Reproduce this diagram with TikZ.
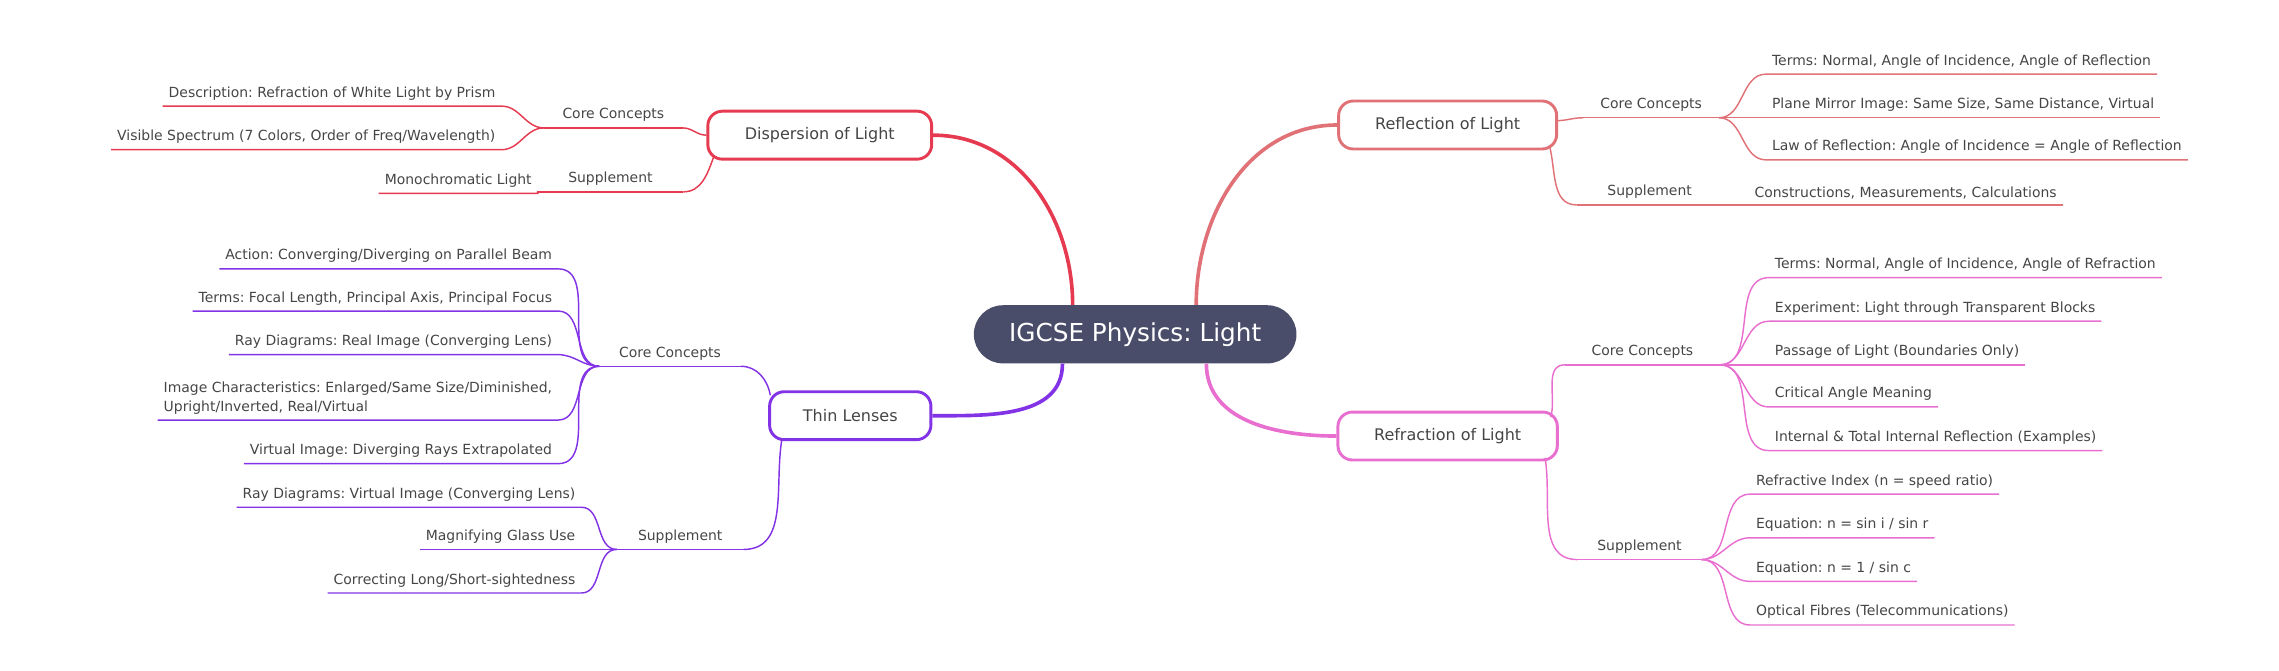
\documentclass[tikz,border=0pt]{standalone}
\usepackage{fontspec}
\setmainfont{DejaVu Sans}
\frenchspacing
\definecolor{rootcol}{HTML}{4A4D6A}
\definecolor{reflcol}{HTML}{E07277}
\definecolor{refrcol}{HTML}{E86FCF}
\definecolor{dispcol}{HTML}{E53A50}
\definecolor{lenscol}{HTML}{8333E6}
\definecolor{txt}{HTML}{454545}
\begin{document}
\begin{tikzpicture}[x=1pt,y=-1pt]
\tikzstyle{topic}=[draw,line width=2pt,fill=white,rounded corners=10pt,minimum height=33,text=txt,font=\fontsize{11}{13}\selectfont]
\tikzstyle{sub}=[inner sep=0,inner ysep=4,text=txt,font=\fontsize{9.6}{11}\selectfont]
\tikzstyle{leaf}=[inner xsep=4,inner ysep=4,text=txt,font=\fontsize{9.6}{12.5}\selectfont,align=left]
\tikzstyle{main}=[line width=2.5pt]
\tikzstyle{twig}=[line width=1pt]

% background / bounding box
\useasboundingbox (0,0) rectangle (1568,461);

% root and topics
\node[fill=rootcol,rounded corners=20pt,minimum width=222,minimum height=40,text=white,font=\fontsize{17}{19}\selectfont] (root) at (781,230) {IGCSE Physics: Light};
\node[topic,draw=reflcol,minimum width=150] (refl) at (996,86) {Reflection of Light};
\node[topic,draw=refrcol,minimum width=151] (refr) at (996,300) {Refraction of Light};
\node[topic,draw=dispcol,minimum width=154] (disp) at (564,93) {Dispersion of Light};
\node[topic,draw=lenscol,minimum width=111] (lens) at (585,286) {Thin Lenses};

\draw[main,dispcol] ([xshift=-43pt]root.north) to[out=90,in=0] (disp.east);
\draw[main,reflcol] ([xshift=42pt]root.north) to[out=90,in=180] (refl.west);
\draw[main,refrcol] ([xshift=49pt]root.south) to[out=-90,in=180] (refr.west);
\draw[main,lenscol] ([xshift=-50pt]root.south) to[out=-90,in=0] (lens.east);

% reflection
\node[sub,minimum width=93,anchor=south] (rflc) at (1136,81) {Core Concepts};
\node[sub,minimum width=100,anchor=south] (rfls) at (1135,141) {Supplement};
\draw[twig,reflcol] (rflc.south west) -- (rflc.south east) (rfls.south west) -- (rfls.south east);
\draw[twig,reflcol] (1071,83) to[out=0,in=180] (rflc.south west);
\draw[twig,reflcol] (1066,100) to[out=-75,in=180] (rfls.south west);
\foreach \i/\y/\t in {1/51/{Terms: Normal, Angle of Incidence, Angle of Reflection},2/81/{Plane Mirror Image: Same Size, Same Distance, Virtual},3/110/{Law of Reflection: Angle of Incidence = Angle of Reflection}} {
  \node[leaf,anchor=south west] (rflc\i) at (1215,\y) {\t};
  \draw[twig,reflcol] (rflc.south east) to[out=0,in=180] (rflc\i.south west) -- (rflc\i.south east);
}
\node[leaf,anchor=south west] (rfls1) at (1203,141) {Constructions, Measurements, Calculations};
\draw[twig,reflcol] (rfls.south east) -- (rfls1.south west) -- (rfls1.south east);

% refraction
\node[sub,minimum width=106,anchor=south] (rfrc) at (1130,251) {Core Concepts};
\node[sub,minimum width=85,anchor=south] (rfrs) at (1128,385) {Supplement};
\draw[twig,refrcol] (rfrc.south west) -- (rfrc.south east) (rfrs.south west) -- (rfrs.south east);
\draw[twig,refrcol] (1067,287) to[out=75,in=180] (rfrc.south west);
\draw[twig,refrcol] (1063,315) to[out=-80,in=180] (rfrs.south west);
\foreach \i/\y/\t in {1/191/{Terms: Normal, Angle of Incidence, Angle of Refraction},2/221/{Experiment: Light through Transparent Blocks},3/251/{Passage of Light (Boundaries Only)},4/280/{Critical Angle Meaning},5/310/{Internal \& Total Internal Reflection (Examples)}} {
  \node[leaf,anchor=south west] (rfrc\i) at (1217,\y) {\t};
  \draw[twig,refrcol] (rfrc.south east) to[out=0,in=180] (rfrc\i.south west) -- (rfrc\i.south east);
}
\foreach \i/\y/\t in {1/340/{Refractive Index (n = speed ratio)},2/370/{Equation: n = sin i / sin r},3/400/{Equation: n = 1 / sin c},4/430/{Optical Fibres (Telecommunications)}} {
  \node[leaf,anchor=south west] (rfrs\i) at (1204,\y) {\t};
  \draw[twig,refrcol] (rfrs.south east) to[out=0,in=180] (rfrs\i.south west) -- (rfrs\i.south east);
}

% dispersion
\node[sub,minimum width=95,anchor=south] (dspc) at (422,88) {Core Concepts};
\node[sub,minimum width=100,anchor=south] (dsps) at (420,132) {Supplement};
\draw[twig,dispcol] (dspc.south west) -- (dspc.south east) (dsps.south west) -- (dsps.south east);
\draw[twig,dispcol] (disp.west) to[out=180,in=0] (dspc.south east);
\draw[twig,dispcol] (491,108) to[out=-110,in=0] (dsps.south east);
\foreach \i/\y/\t in {1/73/{Description: Refraction of White Light by Prism},2/103/{Visible Spectrum (7 Colors, Order of Freq/Wavelength)}} {
  \node[leaf,anchor=south east] (dspc\i) at (345,\y) {\t};
  \draw[twig,dispcol] (dspc.south west) to[out=180,in=0] (dspc\i.south east) -- (dspc\i.south west);
}
\node[leaf,anchor=south east] (dsps1) at (370,133) {Monochromatic Light};
\draw[twig,dispcol] (dsps.south west) -- (dsps1.south east) -- (dsps1.south west);

% thin lenses
\node[sub,minimum width=97,anchor=south] (lnsc) at (461,252) {Core Concepts};
\node[sub,minimum width=87,anchor=south] (lnss) at (468,378) {Supplement};
\draw[twig,lenscol] (lnsc.south west) -- (lnsc.south east) (lnss.south west) -- (lnss.south east);
\draw[twig,lenscol] (530,272) to[out=100,in=0] (lnsc.south east);
\draw[twig,lenscol] (538,302) to[out=-100,in=0] (lnss.south east);
\foreach \i/\y/\t in {1/185/{Action: Converging/Diverging on Parallel Beam},2/214/{Terms: Focal Length, Principal Axis, Principal Focus},3/244/{Ray Diagrams: Real Image (Converging Lens)},4/289/{Image Characteristics: Enlarged/Same Size/Diminished,\\Upright/Inverted, Real/Virtual},5/319/{Virtual Image: Diverging Rays Extrapolated}} {
  \node[leaf,anchor=south east] (lnsc\i) at (384,\y) {\t};
  \draw[twig,lenscol] (lnsc.south west) to[out=180,in=0] (lnsc\i.south east) -- (lnsc\i.south west);
}
\foreach \i/\y/\t in {1/349/{Ray Diagrams: Virtual Image (Converging Lens)},2/378/{Magnifying Glass Use},3/408/{Correcting Long/Short-sightedness}} {
  \node[leaf,anchor=south east] (lnss\i) at (400,\y) {\t};
  \draw[twig,lenscol] (lnss.south west) to[out=180,in=0] (lnss\i.south east) -- (lnss\i.south west);
}
\end{tikzpicture}
\end{document}
